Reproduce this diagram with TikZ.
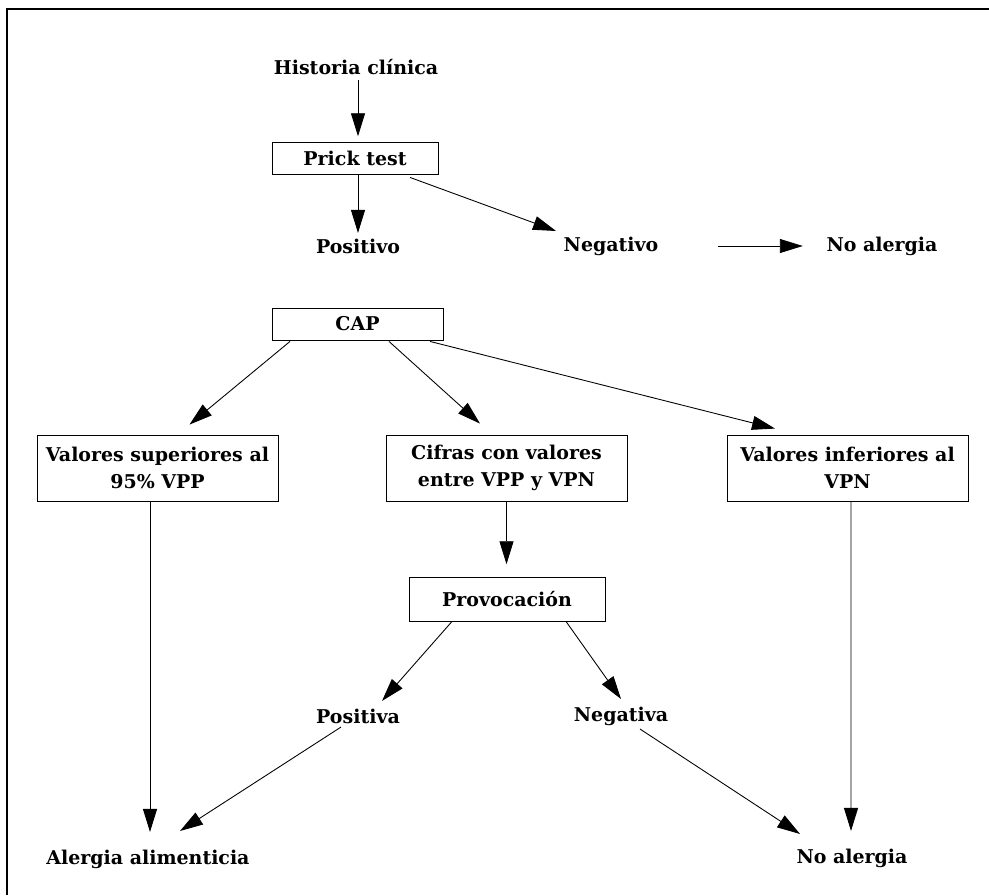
\documentclass[tikz,border=0pt]{standalone}
\usepackage{fontspec}
\setmainfont{DejaVu Serif}
\usepackage{tikz}
\usetikzlibrary{arrows.meta,calc}

\begin{document}
\begin{tikzpicture}[x=0.02cm,y=-0.02cm,>={Triangle[length=4.6mm,width=2.8mm]},
  font=\fontsize{10.8}{15.5}\selectfont\bfseries,line width=0.5pt,
  box/.style={draw,rectangle,align=center,inner sep=0pt},
  lbl/.style={inner sep=0.3em}]
\useasboundingbox (0,0) rectangle (989,895);
\draw[line width=1pt] (7,895) -- (7,9) -- (989,9);
% upper part
\node[lbl] (hist) at (356,67) {Historia clínica};
\node[box,minimum width=3.32cm,minimum height=0.64cm] (prick) at (355,158) {Prick test};
\node[lbl] (pos) at (358,246) {Positivo};
\node[lbl] (neg) at (611,246) {Negativo};
\node[lbl] (noal) at (882,246) {No alergia};
\draw[->,shorten >=3pt] (hist.south-|pos) -- (pos|-prick.north);
\draw[->] (prick.south-|pos) -- (pos.north);
\draw[->] ($(prick.south)+(55,3)$) -- ($(neg.north)+(-55,0)$);
\draw[->] ($(neg.east)+(54,0)$) -- ($(noal.west)+(-18,0)$);
% CAP
\node[box,minimum width=3.42cm,minimum height=0.64cm] (cap) at (357.5,324) {CAP};
\node[box,minimum width=4.82cm,minimum height=1.32cm] (sup) at (157.5,468) {Valores superiores al\\95\% VPP};
\node[box,minimum width=4.82cm,minimum height=1.32cm] (cif) at (506.5,468) {Cifras con valores\\entre VPP y VPN};
\node[box,minimum width=4.82cm,minimum height=1.32cm] (inf) at (847.5,468) {Valores inferiores al\\VPN};
\draw[->] ($(cap.south)+(-67.5,1)$) -- ($(sup.north)+(32,-10)$);
\draw[->] ($(cap.south)+(31.5,1)$) -- ($(cif.north)+(-26.5,-11)$);
\draw[->] ($(cap.south)+(72.5,1)$) -- ($(inf.north)+(-72.5,-6)$);
% provocacion
\node[box,minimum width=3.92cm,minimum height=0.88cm] (prov) at (507,599) {Provocación};
\node[lbl] (posa) at (358,716) {Positiva};
\node[lbl] (nega) at (621,716) {Negativa};
\draw[->,shorten >=7pt] (cif.south) -- (cif.south|-prov.north);
\draw[->] ($(prov.south)+(-55,0)$) -- ($(posa.north)+(24,-2)$);
\draw[->] ($(prov.south)+(59,0)$) -- ($(nega.north)+(0,-2)$);
% results
\node[lbl] (alim) at (148,859) {Alergia alimenticia};
\node[lbl] (noal2) at (852,858) {No alergia};
\draw[->] ($(sup.south)+(-7.5,0)$) -- ($(alim.north)+(2,-12)$);
\draw[->] ($(posa.south)+(-17,-2)$) -- ($(alim.north)+(32,-13)$);
\draw[->] ($(nega.south)+(19,-2)$) -- ($(noal2.north)+(-52,-9)$);
\draw[->] ($(inf.south)+(3.5,0)$) -- ($(noal2.north)+(-1,-12)$);
\end{tikzpicture}
\end{document}
